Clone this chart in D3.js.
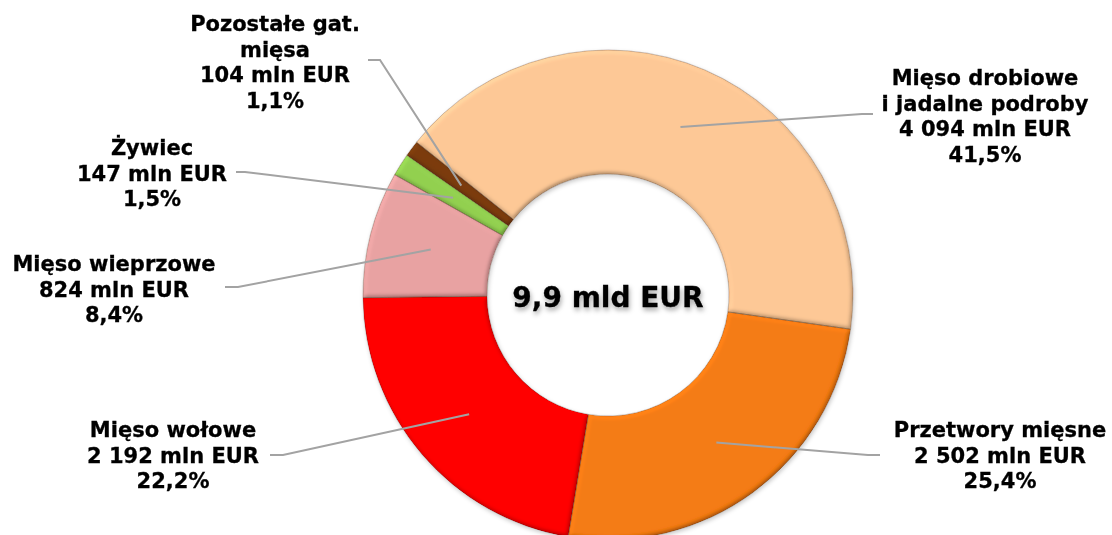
<!DOCTYPE html>
<html>
<head>
<meta charset="utf-8">
<script src="https://cdn.jsdelivr.net/npm/d3@7"></script>
<style>
  html, body { margin: 0; padding: 0; background: #fff; overflow: hidden; }
  text { font-family: "DejaVu Sans", Verdana, sans-serif; font-weight: bold; fill: #000; }
</style>
</head>
<body>
<svg id="chart"></svg>
<script>
// data
const categories = ["Mięso drobiowe\ni jadalne podroby", "Przetwory mięsne", "Mięso wołowe",
                    "Mięso wieprzowe", "Żywiec", "Pozostałe gat.\nmięsa"];
const values = [4094, 2502, 2192, 824, 147, 104];          // mln EUR
const shares = ["41,5%", "25,4%", "22,2%", "8,4%", "1,5%", "1,1%"];
const colors = ["#FDC896", "#F47B12", "#FF0000", "#E8A2A2", "#92D050", "#7B3B0C"];
const totalLabel = "9,9 mld EUR";

// layout of the label blocks: centre x, first baseline, leader start and elbow
const labelPos = [
  {x: 985, y: 85,  lx: 873, ly: 114, ex: 862},
  {x: 1000, y: 437, lx: 880, ly: 455, ex: 868},
  {x: 173, y: 437, lx: 270, ly: 455, ex: 283},
  {x: 114, y: 271, lx: 225, ly: 287, ex: 238},
  {x: 152, y: 155, lx: 236, ly: 172, ex: 245},
  {x: 275, y: 31,  lx: 368, ly: 60,  ex: 380}
];

const width = 1112, height = 535;
const cx = 608, cy = 295, outerR = 245, innerR = 121;
const lineH = 25.5;

const svg = d3.select("#chart").attr("width", width).attr("height", height);
const defs = svg.append("defs");

// soft bevel for each slice
const bevel = defs.append("filter").attr("id", "bevel")
  .attr("x", "-5%").attr("y", "-5%").attr("width", "110%").attr("height", "110%");
bevel.append("feGaussianBlur").attr("in", "SourceAlpha").attr("stdDeviation", 2).attr("result", "blur");
bevel.append("feDiffuseLighting").attr("in", "blur").attr("surfaceScale", 2)
  .attr("diffuseConstant", 1).attr("lighting-color", "#fff").attr("result", "light")
  .append("feDistantLight").attr("azimuth", 235).attr("elevation", 60);
bevel.append("feComposite").attr("in", "SourceGraphic").attr("in2", "light")
  .attr("operator", "arithmetic").attr("k1", 1.155).attr("k2", 0).attr("k3", 0).attr("k4", 0)
  .attr("result", "lit");
bevel.append("feComposite").attr("in", "lit").attr("in2", "SourceAlpha").attr("operator", "in");

const shadow = defs.append("filter").attr("id", "shadow")
  .attr("x", "-10%").attr("y", "-10%").attr("width", "120%").attr("height", "120%");
shadow.append("feDropShadow").attr("dx", 1).attr("dy", 2).attr("stdDeviation", 2)
  .attr("flood-color", "#000").attr("flood-opacity", 0.22);

const textShadow = defs.append("filter").attr("id", "textShadow")
  .attr("x", "-10%").attr("y", "-30%").attr("width", "120%").attr("height", "170%");
textShadow.append("feDropShadow").attr("dx", 1).attr("dy", 3).attr("stdDeviation", 2.5)
  .attr("flood-color", "#000").attr("flood-opacity", 0.35);

const start = -51.4 * Math.PI / 180;
const pie = d3.pie().sort(null).value(d => d).startAngle(start).endAngle(start + 2 * Math.PI);
const arcs = pie(values);
const arc = d3.arc().innerRadius(innerR).outerRadius(outerR);

const g = svg.append("g").attr("transform", "translate(" + cx + "," + cy + ")");

const ring = g.append("g").attr("filter", "url(#shadow)");
ring.selectAll("path")
    .data(arcs)
    .enter()
    .append("path")
    .attr("d", arc)
    .attr("fill", (d, i) => colors[i])
    .attr("filter", "url(#bevel)");

ring.selectAll("path.edge")
    .data(arcs)
    .enter()
    .append("path")
    .attr("class", "edge")
    .attr("d", arc)
    .attr("fill", "none")
    .attr("stroke", "rgba(60,30,0,0.3)")
    .attr("stroke-width", 0.8);

// leader lines
svg.append("g")
   .selectAll("polyline")
   .data(arcs)
   .enter()
   .append("polyline")
   .attr("points", (d, i) => {
     const p = labelPos[i];
     const c = arc.centroid(d);
     return [[p.lx, p.ly], [p.ex, p.ly], [cx + c[0], cy + c[1]]].map(q => q.join(",")).join(" ");
   })
   .attr("fill", "none")
   .attr("stroke", "#A3A3A3")
   .attr("stroke-width", 2);

// labels
const fmt = v => d3.format(",")(v).replace(/,/g, " ");
const labels = svg.append("g")
   .selectAll("text")
   .data(categories)
   .enter()
   .append("text")
   .attr("text-anchor", "middle")
   .attr("font-size", 21)
   .attr("stroke", "#000")
   .attr("stroke-width", 0.3)
   .attr("x", (d, i) => labelPos[i].x)
   .attr("y", (d, i) => labelPos[i].y);

labels.each(function(d, i) {
  const lines = d.split("\n").concat([fmt(values[i]) + " mln EUR", shares[i]]);
  d3.select(this).selectAll("tspan")
    .data(lines)
    .enter()
    .append("tspan")
    .attr("x", labelPos[i].x)
    .attr("dy", (l, j) => j === 0 ? 0 : lineH)
    .text(l => l);
});

svg.append("text")
   .attr("x", cx)
   .attr("y", cy + 12)
   .attr("text-anchor", "middle")
   .attr("font-size", 28)
   .attr("stroke", "#000")
   .attr("stroke-width", 0.3)
   .attr("filter", "url(#textShadow)")
   .text(totalLabel);
</script>
</body>
</html>
